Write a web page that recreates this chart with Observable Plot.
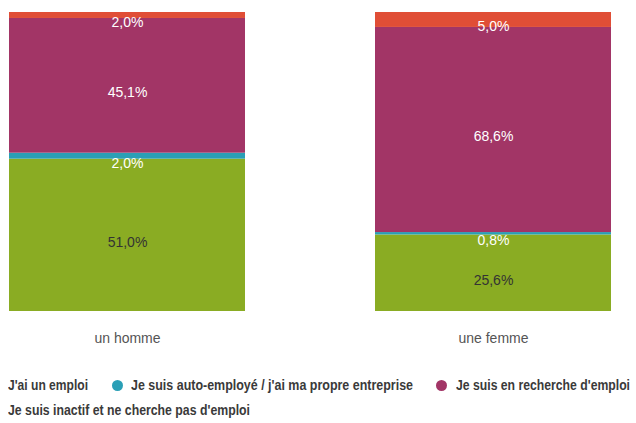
<!DOCTYPE html>
<html>
<head>
<meta charset="utf-8">
<script src="https://cdn.jsdelivr.net/npm/d3@7"></script>
<script src="https://cdn.jsdelivr.net/npm/@observablehq/plot@0.6"></script>
<style>
  html, body { margin: 0; padding: 0; background: #fff; }
  #wrap { width: 636px; height: 423px; position: relative; overflow: hidden;
          font-family: "Liberation Sans", Arial, sans-serif; }
  .leg { position: absolute; font-size: 15.5px; font-weight: bold; color: #3a3a3a; white-space: nowrap; line-height: 18px; transform-origin: 0 50%; }
  .dot { position: absolute; width: 11px; height: 11px; border-radius: 50%; }
</style>
</head>
<body>
<div id="wrap"></div>
<script>
const categories = ["un homme", "une femme"];
const series = [
  "J'ai un emploi",
  "Je suis auto-employé / j'ai ma propre entreprise",
  "Je suis en recherche d'emploi",
  "Je suis inactif et ne cherche pas d'emploi"
];
const hommeValues = [51.0, 2.0, 45.1, 2.0];
const femmeValues = [25.6, 0.8, 68.6, 5.0];
const colors = ["#8aac23", "#2a9fb6", "#a23566", "#e04e36"];

const data = [];
[hommeValues, femmeValues].forEach((vals, ci) => {
  vals.forEach((v, si) => data.push({category: categories[ci], series: series[si], value: v}));
});
const fmt = v => v.toFixed(1).replace(".", ",") + "%";

const chart = Plot.plot({
  width: 636,
  height: 360,
  marginLeft: 0,
  marginRight: 15.5,
  marginTop: 12,
  marginBottom: 49,
  style: {fontFamily: "\"Liberation Sans\", Arial, sans-serif", background: "transparent"},
  x: {domain: categories, paddingInner: 0.356, paddingOuter: 0.0246, label: null, tickSize: 0, tickPadding: 22},
  y: {axis: null, domain: [0, 1]},
  color: {domain: series, range: colors},
  marks: [
    Plot.barY(data, Plot.stackY({offset: "normalize", x: "category", y: "value", fill: "series", order: null})),
    Plot.text(data, Plot.stackY({offset: "normalize", x: "category", y: "value", z: "series", order: null,
      text: d => fmt(d.value),
      fill: d => d.series === series[0] ? "#333" : "#fff",
      dy: 7, fontSize: 14})),
    Plot.axisX({tickSize: 0, tickPadding: 22, fontSize: 14, color: "#555", label: null})
  ]
});
const wrap = document.getElementById("wrap");
wrap.appendChild(chart);

// legend layout: [seriesIndex, textLeft, textWidth, rowCenterY, dotLeft or null]
const legendLayout = [
  [0, 8, 80, 385, null],
  [1, 131, 282, 385, 112],
  [2, 456, 174, 385, 436],
  [3, 8, 242, 410, null]
];
legendLayout.forEach(([si, left, w, cy, dotLeft]) => {
  if (dotLeft !== null) {
    const d = document.createElement("div");
    d.className = "dot";
    d.style.left = dotLeft + "px";
    d.style.top = (cy - 5.5) + "px";
    d.style.background = colors[si];
    wrap.appendChild(d);
  }
  const el = document.createElement("div");
  el.className = "leg";
  el.textContent = series[si];
  el.style.left = left + "px";
  el.style.top = (cy - 9) + "px";
  wrap.appendChild(el);
  const natural = el.getBoundingClientRect().width;
  el.style.transform = `scaleX(${w / natural})`;
});
</script>
</body>
</html>
